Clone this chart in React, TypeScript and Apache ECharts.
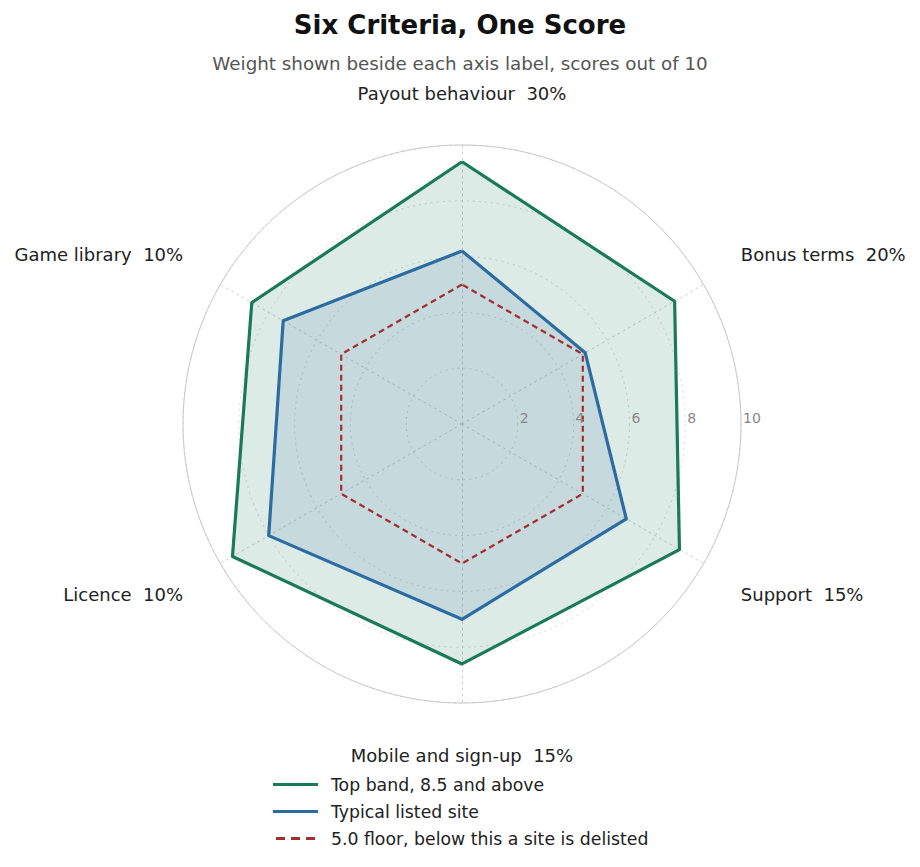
import {useEffect, useRef} from 'react';
import * as echarts from 'echarts';

// criteria in clockwise order from the top
const criteria = ['Payout behaviour', 'Bonus terms', 'Support', 'Mobile and sign-up', 'Licence', 'Game library'];
const weights = [30, 20, 15, 15, 10, 10];
const topBand = [9.4, 8.8, 9.0, 8.6, 9.5, 8.7];
const typical = [6.2, 5.1, 6.8, 7.0, 8.0, 7.4];
const floor = [5, 5, 5, 5, 5, 5];
const seriesNames = ['Top band, 8.5 and above', 'Typical listed site', '5.0 floor, below this a site is delisted'];
const tickLabels = ['2', '4', '6', '8', '10'];

// echarts runs the radar counter-clockwise, so walk the list backwards after the first
const order = [0, 5, 4, 3, 2, 1];
const reorder = (arr: number[]) => order.map((i) => arr[i]);

const GREEN = '#1b7a58';
const BLUE = '#2c6ca3';
const RED = '#a3302f';

const App = () => {
    const chartRef = useRef<HTMLDivElement>(null);

    useEffect(() => {
        if (!chartRef.current) return;
        document.body.style.margin = '0';
        const chart = echarts.init(chartRef.current, undefined, {renderer: 'svg'});
        const center = [462, 424];
        const radius = 279;
        const upperSide = new Set([1, 5]);
        const lowerSide = new Set([2, 4]);

        const option: any = {
            animation: false,
            textStyle: {fontFamily: 'DejaVu Sans'},
            title: [
                {
                    text: 'Six Criteria, One Score',
                    left: 'center',
                    top: 7,
                    textStyle: {fontSize: 26, fontWeight: 'bold', color: '#111'},
                },
                {
                    text: 'Weight shown beside each axis label, scores out of 10',
                    left: 'center',
                    top: 49,
                    textStyle: {fontSize: 18.3, fontWeight: 'normal', color: '#555'},
                },
            ],
            legend: {
                orient: 'vertical',
                left: 268,
                top: 771,
                itemWidth: 45,
                itemHeight: 3,
                itemGap: 10,
                selectedMode: false,
                textStyle: {fontSize: 17.3, color: '#222', padding: [0, 0, 0, 8]},
                data: [
                    {name: seriesNames[0], icon: 'rect', itemStyle: {color: GREEN, borderWidth: 0}},
                    {name: seriesNames[1], icon: 'rect', itemStyle: {color: BLUE, borderWidth: 0}},
                    {
                        name: seriesNames[2],
                        icon: 'path://M0 0h9v3H0z M15 0h9v3H15z M30 0h9v3H30z',
                        itemStyle: {color: RED, borderWidth: 0},
                    },
                ],
            },
            polar: {center, radius},
            angleAxis: {
                type: 'value',
                min: 0,
                max: 360,
                startAngle: 0,
                axisLine: {show: true, lineStyle: {color: '#c8c8c8', width: 1}},
                axisTick: {show: false},
                axisLabel: {show: false},
                splitLine: {show: false},
                z: 1,
            },
            radiusAxis: {
                type: 'value',
                min: 0,
                max: 10,
                interval: 2,
                axisLine: {show: false},
                axisTick: {show: false},
                splitLine: {show: false},
                axisLabel: {
                    show: true,
                    showMinLabel: false,
                    color: '#888',
                    fontSize: 14,
                    align: 'left',
                    margin: -1,
                    padding: [0, 0, 0, 2],
                    formatter: (v: number) => tickLabels[v / 2 - 1] ?? '',
                },
                z: 10,
            },
            radar: {
                center,
                radius,
                shape: 'circle',
                startAngle: 90,
                splitNumber: 5,
                indicator: order.map((i) => ({
                    name: `${criteria[i]}  ${weights[i]}%`,
                    max: 10,
                    min: 0,
                })),
                axisName: {
                    color: '#222',
                    fontSize: 18,
                    formatter: (name: string) => {
                        const k = criteria.findIndex((c) => name.startsWith(c));
                        if (upperSide.has(k)) return `{u|${name}}`;
                        if (lowerSide.has(k)) return `{d|${name}}`;
                        return name;
                    },
                    rich: {
                        u: {fontSize: 18, color: '#222', padding: [0, 0, 18, 0]},
                        d: {fontSize: 18, color: '#222', padding: [18, 0, 0, 0]},
                    },
                },
                nameGap: 43,
                axisLine: {lineStyle: {color: '#d0d0d0', type: [2, 4], width: 1}},
                splitLine: {lineStyle: {color: '#d6d6d6', type: [2, 4], width: 1}},
                splitArea: {show: false},
                axisTick: {show: false},
                axisLabel: {show: false},
            },
            series: [
                {
                    type: 'radar',
                    symbol: 'none',
                    data: [
                        {
                            name: seriesNames[0],
                            value: reorder(topBand),
                            itemStyle: {color: GREEN},
                            lineStyle: {color: GREEN, width: 3.2},
                            areaStyle: {color: GREEN, opacity: 0.15},
                        },
                        {
                            name: seriesNames[1],
                            value: reorder(typical),
                            itemStyle: {color: BLUE},
                            lineStyle: {color: BLUE, width: 3.2},
                            areaStyle: {color: BLUE, opacity: 0.13},
                        },
                        {
                            name: seriesNames[2],
                            value: reorder(floor),
                            itemStyle: {color: RED},
                            lineStyle: {color: RED, width: 2.2, type: [6, 4]},
                        },
                    ],
                },
            ],
        };
        chart.setOption(option);

        return () => {
            chart.dispose();
        };
    }, []);

    return <div ref={chartRef} style={{width: 920, height: 867}} />;
};

export default App;
